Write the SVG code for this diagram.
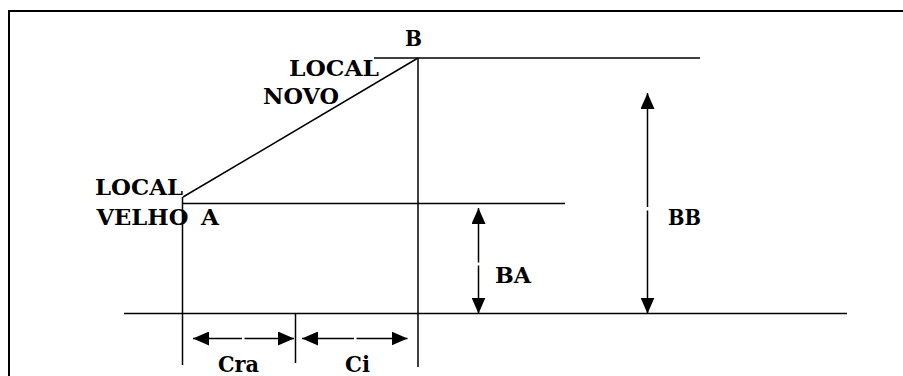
<svg xmlns="http://www.w3.org/2000/svg" width="903" height="376" viewBox="0 0 903 376">
<style>
.ln{stroke:#000;stroke-width:1.5;fill:none}
.fr{stroke:#000;stroke-width:2;fill:none}
.t{font-family:"DejaVu Serif",serif;font-weight:bold;font-size:23px;fill:#000}
</style>
<defs>
<marker id="ah" viewBox="0 0 16 14" refX="16" refY="7" markerWidth="16" markerHeight="14" markerUnits="userSpaceOnUse" orient="auto-start-reverse">
<path d="M0,0 L16,7 L0,14 Z" fill="#000"/>
</marker>
</defs>
<rect width="903" height="376" fill="#fff"/>
<path class="fr" d="M9,376 V11 H903"/>
<g id="connectors">
<line class="ln" x1="374" y1="58" x2="700" y2="58"/>
<line class="ln" x1="418" y1="58" x2="418" y2="367"/>
<line class="ln" x1="183" y1="197" x2="418" y2="58"/>
<line class="ln" x1="182.5" y1="197" x2="182.5" y2="365"/>
<line class="ln" x1="182" y1="203.5" x2="565" y2="203.5"/>
<line class="ln" x1="124" y1="313.5" x2="847" y2="313.5"/>
<line class="ln" x1="295.5" y1="313.5" x2="295.5" y2="363"/>
<line class="ln" x1="193" y1="338.5" x2="242" y2="338.5" marker-start="url(#ah)"/>
<line class="ln" x1="244.5" y1="338.5" x2="294" y2="338.5" marker-end="url(#ah)"/>
<line class="ln" x1="302" y1="338.5" x2="354" y2="338.5" marker-start="url(#ah)"/>
<line class="ln" x1="356.5" y1="338.5" x2="407.5" y2="338.5" marker-end="url(#ah)"/>
<line class="ln" x1="478.5" y1="208" x2="478.5" y2="262.5" marker-start="url(#ah)"/>
<line class="ln" x1="478.5" y1="265.5" x2="478.5" y2="313.5" marker-end="url(#ah)"/>
<line class="ln" x1="647.5" y1="93" x2="647.5" y2="207" marker-start="url(#ah)"/>
<line class="ln" x1="647.5" y1="210.5" x2="647.5" y2="313.5" marker-end="url(#ah)"/>
</g>
<g id="label-B"><text class="t" x="405" y="46" textLength="17" lengthAdjust="spacingAndGlyphs">B</text></g>
<g id="label-local-novo"><text class="t" x="289" y="76" textLength="90" lengthAdjust="spacingAndGlyphs">LOCAL</text><text class="t" x="263" y="104" textLength="76" lengthAdjust="spacingAndGlyphs">NOVO</text></g>
<g id="label-local-velho"><text class="t" x="95" y="195" textLength="88" lengthAdjust="spacingAndGlyphs">LOCAL</text><text class="t" x="96.5" y="225" textLength="92" lengthAdjust="spacingAndGlyphs">VELHO</text></g>
<g id="label-A"><text class="t" x="201" y="225" textLength="18" lengthAdjust="spacingAndGlyphs">A</text></g>
<g id="label-BB"><text class="t" x="668" y="225" textLength="33" lengthAdjust="spacingAndGlyphs">BB</text></g>
<g id="label-BA"><text class="t" x="495" y="283" textLength="36" lengthAdjust="spacingAndGlyphs">BA</text></g>
<g id="label-Cra"><text class="t" x="218" y="372" textLength="41" lengthAdjust="spacingAndGlyphs">Cra</text></g>
<g id="label-Ci"><text class="t" x="345" y="372" textLength="25" lengthAdjust="spacingAndGlyphs">Ci</text></g>
</svg>
